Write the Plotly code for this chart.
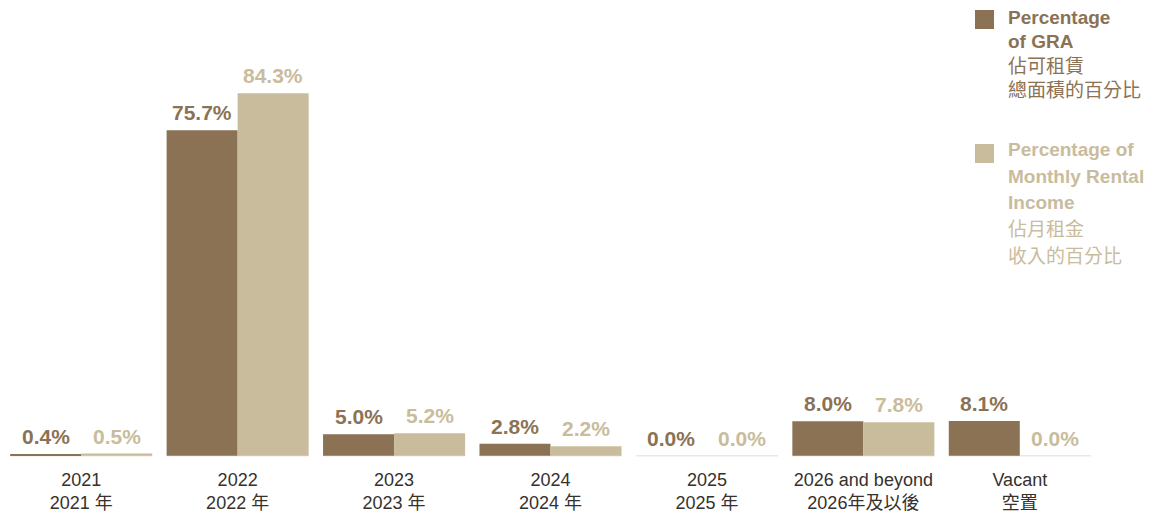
import plotly.graph_objects as go

# Lease expiry profile by year
categories = [
    "2021<br>2021 年",
    "2022<br>2022 年",
    "2023<br>2023 年",
    "2024<br>2024 年",
    "2025<br>2025 年",
    "2026 and beyond<br>2026年及以後",
    "Vacant<br>空置",
]
gra_pct = [0.4, 75.7, 5.0, 2.8, 0.0, 8.0, 8.1]
income_pct = [0.5, 84.3, 5.2, 2.2, 0.0, 7.8, 0.0]

gra_legend = ["<b>Percentage</b>", "<b>of GRA</b>", "佔可租賃", "總面積的百分比"]
income_legend = ["<b>Percentage of</b>", "<b>Monthly Rental</b>", "<b>Income</b>", "佔月租金", "收入的百分比"]

BROWN = "#8b7254"
BEIGE = "#c9bc9c"
BASE = "#ede8de"
TEXT = "#36312d"
FONT = "Liberation Sans, Arial, Noto Sans CJK TC, sans-serif"

W, H = 1160, 517
ML, MR, MT, MB = 3, 62, 0, 60
BARGAP = 0.092

fig = go.Figure()
fig.add_trace(go.Bar(x=categories, y=gra_pct, name="Percentage of GRA",
                     marker=dict(color=BROWN, line=dict(width=0))))
fig.add_trace(go.Bar(x=categories, y=income_pct, name="Percentage of Monthly Rental Income",
                     marker=dict(color=BEIGE, line=dict(width=0))))

# half of one bar's width in pixels, used to centre value labels over each bar
plot_w = W - ML - MR
half_bar = plot_w / len(categories) * (1 - BARGAP) / 4

annotations = []
for cat, g, inc in zip(categories, gra_pct, income_pct):
    for val, color, shift in ((g, BROWN, -half_bar), (inc, BEIGE, half_bar)):
        annotations.append(dict(
            x=cat, y=val, xref="x", yref="y", text=f"<b>{val:.1f}%</b>",
            showarrow=False, xanchor="center", yanchor="bottom",
            xshift=shift, yshift=4,
            font=dict(family=FONT, size=21, color=color),
        ))

# faint base line under each category group
shapes = []
for i in range(len(categories)):
    shapes.append(dict(type="line", xref="x", yref="y",
                       x0=i - (1 - BARGAP) / 2, x1=i + (1 - BARGAP) / 2, y0=0, y1=0,
                       line=dict(color=BASE, width=1.5), layer="below"))


def px_x(px):
    return (px - ML) / plot_w


def px_y(py):
    return 1 - (py - MT) / (H - MT - MB)


# legend: swatches and stacked bilingual labels
legend_items = [
    (BROWN, 10, gra_legend, [18, 42, 66, 90]),
    (BEIGE, 144, income_legend, [150, 177, 203, 230, 256]),
]
for color, top, lines, ys in legend_items:
    shapes.append(dict(type="rect", xref="paper", yref="paper",
                       x0=px_x(975), x1=px_x(994), y0=px_y(top + 19), y1=px_y(top),
                       fillcolor=color, line=dict(width=0)))
    for line, yc in zip(lines, ys):
        annotations.append(dict(
            x=px_x(1006), y=px_y(yc), xref="paper", yref="paper", text=line,
            showarrow=False, xanchor="left", yanchor="middle",
            font=dict(family=FONT, size=19, color=color),
        ))

fig.update_layout(
    width=W, height=H, autosize=False,
    margin=dict(l=ML, r=MR, t=MT, b=MB),
    paper_bgcolor="white", plot_bgcolor="white",
    barmode="group", bargap=BARGAP, bargroupgap=0,
    showlegend=False,
    annotations=annotations, shapes=shapes,
    xaxis=dict(showgrid=False, zeroline=False, showline=False, ticks="",
               ticklabelstandoff=10,
               tickfont=dict(family=FONT, size=18, color=TEXT)),
    yaxis=dict(range=[-0.3, 106], visible=False, showgrid=False, zeroline=False),
)

fig.write_html("out.html")
